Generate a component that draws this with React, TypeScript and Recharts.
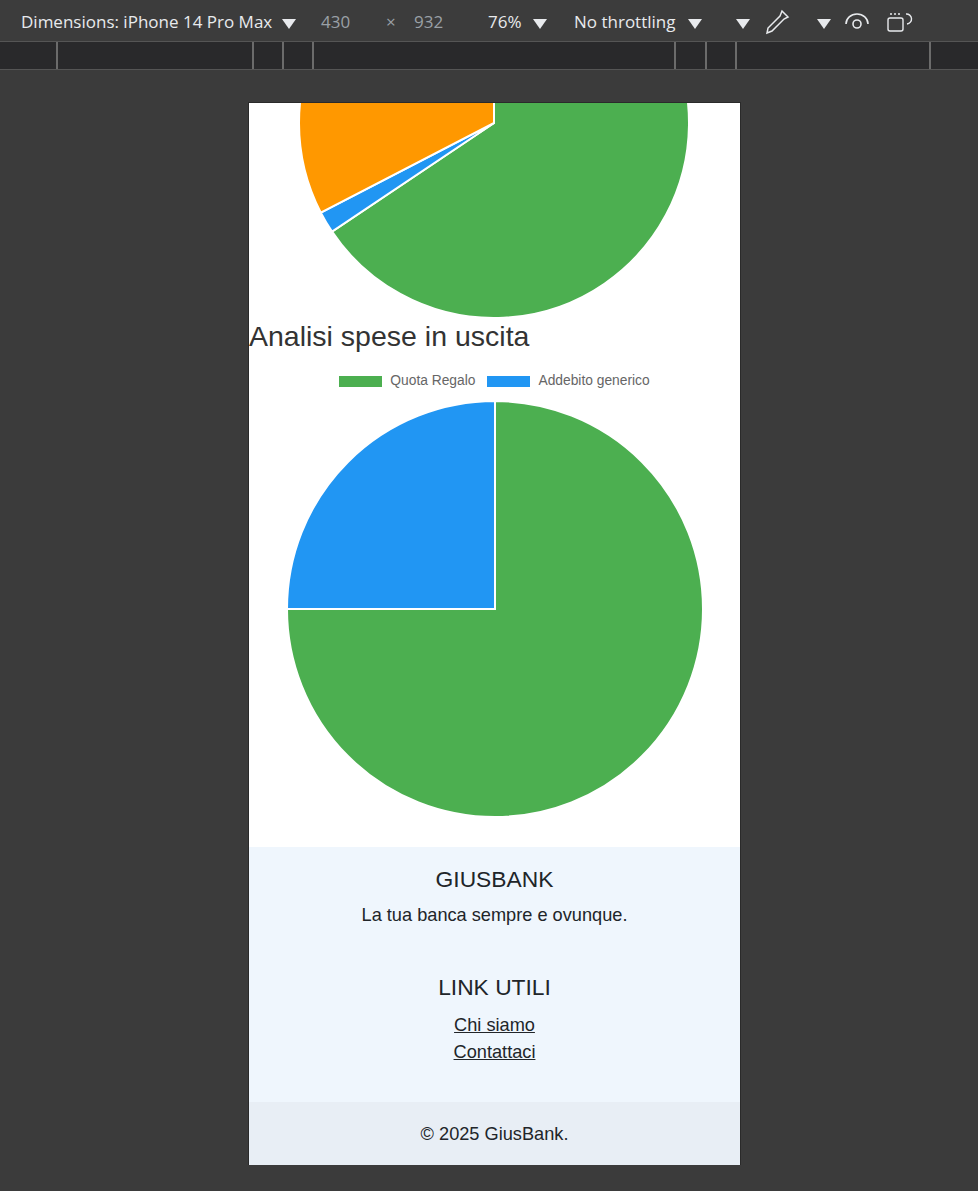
import React from 'react';
import { PieChart, Pie, Cell, Legend } from 'recharts';

// grafico entrate (in alto, tagliato dallo scroll)
const entrateLabels = ['Stipendio', 'Bonifico ricevuto', 'Ricarica'];
const entrateValues = [65.6, 1.8, 32.6];
const entrateColors = ['#4caf50', '#2196f3', '#ff9800'];

// grafico spese in uscita
const speseLabels = ['Quota Regalo', 'Addebito generico'];
const speseValues = [75, 25];
const speseColors = ['#4caf50', '#2196f3'];

const entrateData = entrateLabels.map((name, i) => ({ name, value: entrateValues[i] }));
const speseData = speseLabels.map((name, i) => ({ name, value: speseValues[i] }));

const VIEW_LEFT = 249;
const VIEW_TOP = 103;
const VIEW_W = 491;
const VIEW_H = 1062;
const NO_MARGIN = { top: 0, right: 0, bottom: 0, left: 0 };

const Tri = ({ x, y }: { x: number; y: number }) => (
  <svg style={{ position: 'absolute', left: x, top: y }} width={16} height={12}>
    <path d="M1 1 L15 1 L8 11 Z" fill="#e8eaed" />
  </svg>
);

const ChartLegend = (props: any) => {
  // stesso ordine dei dati, non alfabetico
  const payload = [...(props.payload || [])].sort(
    (a: any, b: any) => speseLabels.indexOf(a.value) - speseLabels.indexOf(b.value)
  );
  return (
    <div style={{ display: 'flex', justifyContent: 'center', alignItems: 'center', width: VIEW_W }}>
      {payload.map((p: any, i: number) => (
        <div key={i} style={{ display: 'flex', alignItems: 'center', marginRight: i < payload.length - 1 ? 12 : 0 }}>
          <span style={{ display: 'inline-block', width: 43, height: 11, background: p.color, marginRight: 8 }} />
          <span style={{ fontFamily: '"Liberation Sans", Arial, sans-serif', fontSize: 13.8, color: '#666', lineHeight: '14px' }}>
            {p.value}
          </span>
        </div>
      ))}
    </div>
  );
};

const txt = (top: number, size: number, extra: React.CSSProperties = {}): React.CSSProperties => ({
  position: 'absolute',
  left: 0,
  width: VIEW_W,
  top,
  textAlign: 'center',
  fontSize: size,
  lineHeight: `${size}px`,
  fontFamily: '"Liberation Sans", Arial, sans-serif',
  color: '#212529',
  whiteSpace: 'nowrap',
  ...extra,
});

export default function App() {
  const tb: React.CSSProperties = {
    position: 'absolute',
    top: 11,
    fontFamily: '"Open Sans", "Noto Sans", sans-serif',
    fontSize: 17,
    lineHeight: '22px',
    color: '#e8eaed',
    whiteSpace: 'nowrap',
  };
  const rulerLines = [57, 253, 283, 313, 675, 706, 736, 930];

  return (
    <div style={{ position: 'fixed', left: 0, top: 0, width: 978, height: 1191, background: '#3b3b3b', overflow: 'hidden' }}>
      {/* barra devtools */}
      <div style={{ position: 'absolute', left: 0, top: 0, width: 978, height: 41, background: '#3c3c3c' }} />
      <div style={{ ...tb, left: 21 }}>Dimensions: iPhone 14 Pro Max</div>
      <Tri x={281} y={18} />
      <div style={{ ...tb, left: 321, color: '#9aa0a6' }}>430</div>
      <div style={{ ...tb, left: 386, color: '#9aa0a6' }}>×</div>
      <div style={{ ...tb, left: 414, color: '#9aa0a6' }}>932</div>
      <div style={{ ...tb, left: 488 }}>76%</div>
      <Tri x={532} y={18} />
      <div style={{ ...tb, left: 574 }}>No throttling</div>
      <Tri x={687} y={18} />
      <Tri x={735} y={18} />
      <svg style={{ position: 'absolute', left: 762, top: 9 }} width={30} height={26}>
        <path d="M20 2 L26 8 L22 10 L10 22 L5 24 L6 19 L18 7 Z" fill="none" stroke="#e8eaed" strokeWidth={1.5} />
      </svg>
      <Tri x={816} y={18} />
      <svg style={{ position: 'absolute', left: 844, top: 10 }} width={26} height={22}>
        <path d="M2 14 A11 10 0 0 1 24 14" fill="none" stroke="#e8eaed" strokeWidth={1.6} />
        <circle cx={13} cy={14} r={4} fill="none" stroke="#e8eaed" strokeWidth={1.6} />
      </svg>
      <svg style={{ position: 'absolute', left: 886, top: 9 }} width={28} height={26}>
        <rect x={2} y={9} width={15} height={13} rx={2} fill="none" stroke="#e8eaed" strokeWidth={1.4} />
        <path d="M4 5 L15 5" stroke="#e8eaed" strokeWidth={1.4} strokeDasharray="2 2" />
        <path d="M20 5 A5 5 0 0 1 21 15" fill="none" stroke="#e8eaed" strokeWidth={1.4} />
      </svg>

      {/* righello */}
      <div style={{ position: 'absolute', left: 0, top: 41, width: 978, height: 29, background: '#29292b', borderTop: '1px solid #555', borderBottom: '1px solid #555', boxSizing: 'border-box' }} />
      {rulerLines.map((x) => (
        <div key={x} style={{ position: 'absolute', left: x - 1, top: 42, width: 2, height: 27, background: '#6b6b6b' }} />
      ))}

      {/* viewport telefono */}
      <div style={{ position: 'absolute', left: VIEW_LEFT - 1, top: VIEW_TOP - 1, width: VIEW_W + 2, height: VIEW_H + 1, background: '#2a2a2a' }} />
      <div style={{ position: 'absolute', left: VIEW_LEFT, top: VIEW_TOP, width: VIEW_W, height: VIEW_H, background: '#fff', overflow: 'hidden' }}>
        <div style={{ position: 'absolute', left: 0, top: 0 }}>
          <PieChart width={VIEW_W} height={240} margin={NO_MARGIN}>
            <Pie
              data={entrateData}
              dataKey="value"
              nameKey="name"
              cx={245}
              cy={20}
              outerRadius={195}
              startAngle={90}
              endAngle={-270}
              stroke="#fff"
              strokeWidth={2}
              isAnimationActive={false}
            >
              {entrateData.map((d, i) => (
                <Cell key={d.name} fill={entrateColors[i]} />
              ))}
            </Pie>
          </PieChart>
        </div>

        <div style={{ ...txt(219, 28.5), textAlign: 'left', color: '#333' }}>Analisi spese in uscita</div>

        <div style={{ position: 'absolute', left: 0, top: 260 }}>
          <PieChart width={VIEW_W} height={480} margin={NO_MARGIN}>
            <Legend
              content={<ChartLegend />}
              verticalAlign="bottom"
              wrapperStyle={{ position: 'absolute', top: 11, bottom: 'auto', left: 0, width: VIEW_W }}
            />
            <Pie
              data={speseData}
              dataKey="value"
              nameKey="name"
              cx={246}
              cy={246}
              outerRadius={208}
              startAngle={90}
              endAngle={-270}
              stroke="#fff"
              strokeWidth={2}
              isAnimationActive={false}
            >
              {speseData.map((d, i) => (
                <Cell key={d.name} fill={speseColors[i]} />
              ))}
            </Pie>
          </PieChart>
        </div>

        {/* footer */}
        <div style={{ position: 'absolute', left: 0, top: 744, width: VIEW_W, height: 255, background: '#eff6fd' }} />
        <div style={{ position: 'absolute', left: 0, top: 999, width: VIEW_W, height: 63, background: '#e8eef5' }} />
        <div style={txt(867.5 - VIEW_TOP, 22.8)}>GIUSBANK</div>
        <div style={txt(905.6 - VIEW_TOP, 18.2)}>La tua banca sempre e ovunque.</div>
        <div style={txt(975.5 - VIEW_TOP, 22.8)}>LINK UTILI</div>
        <div style={txt(1015.6 - VIEW_TOP, 18.2)}>
          <span style={{ textDecoration: 'underline' }}>Chi siamo</span>
        </div>
        <div style={txt(1042.6 - VIEW_TOP, 18.2)}>
          <span style={{ textDecoration: 'underline' }}>Contattaci</span>
        </div>
        <div style={txt(1124.6 - VIEW_TOP, 18.2)}>© 2025 GiusBank.</div>
      </div>
    </div>
  );
}
